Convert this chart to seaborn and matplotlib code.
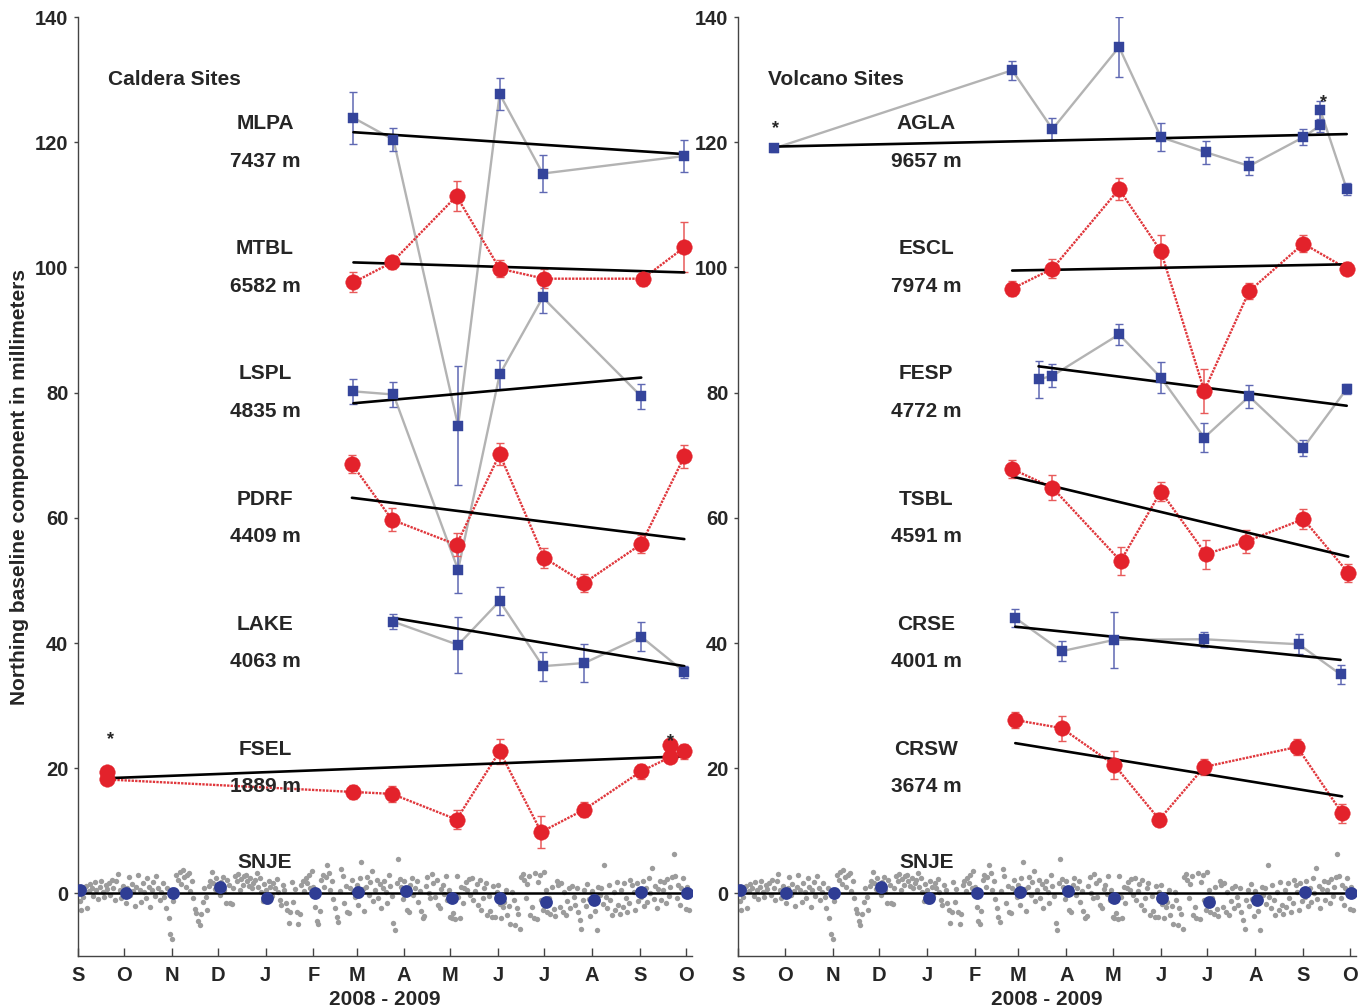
"""
Northing baseline components, caldera and volcano sites (2008 - 2009)
"""

# Libraries
import numpy as np
import pandas as pd
import seaborn as sns
import matplotlib.pyplot as plt

# Seaborn
sns.set_theme(style="ticks")
plt.rcParams['font.family'] = ['Liberation Sans', 'DejaVu Sans']
plt.rcParams['font.weight'] = 'bold'
plt.rcParams['axes.labelweight'] = 'bold'

# ---------------------------------
# Data (days since 1 Sep 2008, mm)
# ---------------------------------
MONTH_DAYS = [0, 30, 61, 91, 122, 153, 181, 212, 242, 273, 303, 334, 365, 395]
MONTH_LABELS = ['S', 'O', 'N', 'D', 'J', 'F', 'M', 'A', 'M', 'J', 'J', 'A', 'S', 'O']

# Caldera sites
MLPA_DAYS = [179, 205, 247, 274, 302, 394]
MLPA_MM = [123.9, 120.4, 74.7, 127.7, 115.0, 117.8]
MLPA_ERR = [4.2, 1.8, 9.5, 2.6, 3.0, 2.5]
MLPA_TREND = [121.6, 118.1]

MTBL_DAYS = [179, 204, 246, 274, 303, 367, 394]
MTBL_MM = [97.6, 100.8, 111.4, 99.8, 98.2, 98.2, 103.2]
MTBL_ERR = [1.6, 1.0, 2.4, 1.4, 1.5, 1.2, 4.0]
MTBL_TREND = [100.8, 99.2]

LSPL_DAYS = [179, 205, 247, 274, 302, 366]
LSPL_MM = [80.2, 79.7, 51.7, 82.9, 95.2, 79.4]
LSPL_ERR = [2.0, 2.0, 3.7, 2.3, 2.5, 2.0]
LSPL_TREND = [78.3, 82.4]

PDRF_DAYS = [178, 204, 246, 274, 303, 329, 366, 394]
PDRF_MM = [68.6, 59.7, 55.7, 70.2, 53.6, 49.6, 55.8, 69.8]
PDRF_ERR = [1.5, 1.8, 1.8, 1.8, 1.6, 1.4, 1.4, 1.8]
PDRF_TREND = [63.2, 56.6]

LAKE_DAYS = [205, 247, 274, 302, 329, 366, 394]
LAKE_MM = [43.4, 39.7, 46.7, 36.3, 36.8, 41.0, 35.4]
LAKE_ERR = [1.2, 4.5, 2.2, 2.3, 3.0, 2.3, 1.0]
LAKE_TREND = [44.0, 36.3]

FSEL_DAYS = [19, 19, 179, 204, 246, 274, 301, 329, 366, 385, 385, 394]
FSEL_MM = [19.4, 18.2, 16.2, 15.9, 11.8, 22.7, 9.8, 13.4, 19.5, 21.8, 23.7, 22.7]
FSEL_ERR = [0.8, 0.8, 1.1, 1.3, 1.5, 2.0, 2.5, 1.2, 1.2, 1.0, 0.8, 1.2]
FSEL_TREND = [18.4, 21.9]

# Volcano sites
AGLA_DAYS = [23, 177, 203, 246, 273, 302, 330, 365, 376, 376, 393]
AGLA_MM = [119.0, 131.5, 122.1, 135.2, 120.8, 118.4, 116.2, 120.8, 122.7, 125.1, 112.5]
AGLA_ERR = [0.6, 1.5, 1.7, 4.8, 2.2, 1.8, 1.5, 1.3, 1.0, 1.5, 1.0]
AGLA_TREND = [119.3, 121.3]

ESCL_DAYS = [177, 203, 246, 273, 301, 330, 365, 393]
ESCL_MM = [96.6, 99.8, 112.5, 102.6, 80.3, 96.2, 103.8, 99.8]
ESCL_ERR = [1.2, 1.5, 1.8, 2.5, 3.5, 1.3, 1.3, 1.0]
ESCL_TREND = [99.5, 100.5]

FESP_DAYS = [194, 203, 246, 273, 301, 330, 365, 393]
FESP_MM = [82.1, 82.7, 89.3, 82.4, 72.8, 79.4, 71.2, 80.6]
FESP_ERR = [3.0, 1.8, 1.7, 2.5, 2.3, 1.8, 1.3, 0.8]
FESP_TREND = [84.2, 77.9]

TSBL_DAYS = [177, 203, 247, 273, 302, 328, 365, 394]
TSBL_MM = [67.8, 64.8, 53.1, 64.2, 54.2, 56.2, 59.8, 51.2]
TSBL_ERR = [1.5, 2.0, 2.2, 1.5, 2.3, 1.8, 1.6, 1.5]
TSBL_TREND = [66.6, 53.8]

CRSE_DAYS = [179, 209, 243, 301, 362, 389]
CRSE_MM = [44.0, 38.7, 40.5, 40.6, 39.8, 35.0]
CRSE_ERR = [1.5, 1.6, 4.5, 1.2, 1.6, 1.5]
CRSE_TREND = [42.6, 37.3]

CRSW_DAYS = [179, 209, 243, 272, 301, 361, 390]
CRSW_MM = [27.7, 26.4, 20.5, 11.8, 20.2, 23.4, 12.8]
CRSW_ERR = [1.3, 2.0, 2.3, 1.0, 1.3, 1.3, 1.5]
CRSW_TREND = [24.0, 15.5]

# Reference site SNJE, monthly means
SNJE_DAYS = [1, 31, 62, 92, 123, 154, 182, 213, 243, 274, 304, 335, 366, 396]
SNJE_MM = [0.6, 0.0, 0.1, 1.1, -0.8, 0.0, 0.2, 0.4, -0.8, -0.8, -1.3, -1.0, 0.2, 0.0]
SNJE_ERR = [0.6, 0.6, 0.7, 0.5, 0.7, 0.6, 0.7, 0.5, 0.6, 0.6, 0.5, 0.6, 0.5, 0.5]

# Reference site SNJE, daily solutions (one per day from 1 Sep 2008)
SNJE_DAILY = [
    0.3, -1.2, -2.6, -0.5, 0.8, 1.2, -2.3, 0.4, 1.5, 0.9, -0.4, 1.8, 0.6, -0.9, 1.1, 2.0, 0.3, -0.6, 1.4, 0.7,
    1.6, -0.2, 2.2, 0.8, -1.1, 1.9, 3.1, 0.5, -0.8, 1.2, 0.2, -1.6, 0.9, 2.6, -0.3, 1.5, 0.4, -2.0, 1.1, 2.9,
    0.6, -1.3, 1.7, 0.2, -0.7, 2.4, 1.0, -2.1, 0.5, 1.8, -0.4, 2.7, 0.9, -1.0, 0.3, 1.6, -0.5, -2.4, 0.8, -4.0,
    -6.5, -7.3, -1.2, 0.6, 3.0, 2.2, 3.4, 1.5, 3.7, 2.6, 1.0, 2.9, 3.3, 0.4, 1.9, -0.8, -2.5, -3.1, -4.4, -5.0,
    -3.3, -1.4, 0.9, -0.5, -2.7, 1.2, 2.0, 3.4, 1.6, 0.7, 2.4, 1.1, -0.3, 1.8, 2.6, 0.5, -1.6, 2.1, 1.3, -1.5,
    -1.7, 0.8, 2.8, 1.9, 3.1, 0.6, 2.3, 1.4, 2.7, 3.0, 2.0, 1.2, 2.5, 0.9, 1.7, 2.2, 3.2, 1.0, 2.4, 0.3,
    -1.2, 1.5, 0.6, -0.8, 2.0, 1.1, -0.4, 1.6, 0.9, 2.3, 0.2, -1.1, -1.8, 1.4, 0.5, -1.5, -2.6, -4.7, -3.0, 1.8,
    -1.4, 0.7, -2.9, -4.9, -3.3, 1.3, 2.0, 0.4, 2.4, 1.7, 2.9, 0.8, 3.6, 1.1, -2.1, -4.4, -4.9, -2.8, 2.2, 3.0,
    1.0, 2.6, 4.5, 3.2, 0.6, 1.9, -0.9, -2.3, -3.7, -4.6, 0.4, 3.9, 2.8, -1.5, 1.2, -2.9, -3.2, 0.8, 2.1, 0.2,
    -0.6, 1.4, -1.9, 2.4, 5.0, 0.7, -2.8, 1.1, 2.6, -0.3, 1.8, 3.6, -1.2, 0.5, 2.2, -0.7, 1.5, -2.4, 0.9, 1.9,
    0.3, -1.6, 2.9, 1.2, -0.4, -4.8, -5.9, 1.7, 5.5, 2.3, 1.0, -0.9, 2.0, 0.6, -2.6, -3.0, 1.4, 2.5, -0.2, 0.8,
    1.9, -1.3, 0.4, -2.8, -4.0, -3.6, 1.2, 2.6, 0.1, -0.8, 3.1, 1.6, -0.6, 2.2, -1.9, -2.4, 0.7, 1.3, -0.1, 2.7,
    -1.0, 0.5, -3.8, -4.0, -3.2, -4.1, 2.8, -0.5, -3.9, 1.1, -1.6, 0.9, 1.8, 0.6, 2.3, -0.2, 2.5, -1.1, 0.4, 1.5,
    -1.9, 2.1, -2.6, -0.8, 0.8, 1.6, -3.5, -0.4, -2.8, -3.8, 1.2, -3.8, 0.3, 1.4, -1.7, -4.0, -2.2, -1.4, 0.6, -3.5,
    -2.0, -4.9, 0.2, -1.1, -5.0, -2.4, -3.3, -5.7, 2.6, 3.1, 2.2, -0.8, 1.5, 2.7, -3.4, -2.1, -3.9, 3.2, -4.1, 1.8,
    2.9, -1.0, -2.6, 3.4, 0.5, -2.9, -0.7, -3.3, 1.0, -2.5, -3.6, 2.0, 1.4, -2.2, 1.7, -3.0, 0.3, -3.5, -1.2, 0.8,
    -2.4, 1.2, -0.5, -1.8, 0.9, -3.0, -4.2, -5.7, -1.1, 0.6, -2.0, 1.5, -0.9, -3.6, 0.4, -1.4, -2.8, -5.9, 1.1, -0.3,
    0.8, -1.7, 4.5, -0.5, -2.3, 1.3, -1.0, -3.4, 0.2, -2.6, 1.8, -1.9, -3.3, 0.6, -2.1, 1.6, -0.8, -3.0, -1.5, 2.2,
    1.4, 0.3, -2.7, 1.7, -1.2, 0.5, -0.6, 1.9, -2.0, 0.9, -1.4, 2.4, 0.1, 4.0, -0.9, 1.2, -2.3, 0.7, 2.0, -1.1,
    0.6, 1.8, -1.6, 2.3, -0.4, 1.1, 2.6, 6.3, 2.7, -0.7, 1.4, -1.8, 0.9, 2.5, -0.3, -2.5, 1.0, -2.7, 0.4,
]

# Panels: (title, [(site, baseline, days, mm, err, trend, style), ...])
CALDERA = [
    ('MLPA', '7437 m', MLPA_DAYS, MLPA_MM, MLPA_ERR, MLPA_TREND, 'blue'),
    ('MTBL', '6582 m', MTBL_DAYS, MTBL_MM, MTBL_ERR, MTBL_TREND, 'red'),
    ('LSPL', '4835 m', LSPL_DAYS, LSPL_MM, LSPL_ERR, LSPL_TREND, 'blue'),
    ('PDRF', '4409 m', PDRF_DAYS, PDRF_MM, PDRF_ERR, PDRF_TREND, 'red'),
    ('LAKE', '4063 m', LAKE_DAYS, LAKE_MM, LAKE_ERR, LAKE_TREND, 'blue'),
    ('FSEL', '1889 m', FSEL_DAYS, FSEL_MM, FSEL_ERR, FSEL_TREND, 'red'),
]
VOLCANO = [
    ('AGLA', '9657 m', AGLA_DAYS, AGLA_MM, AGLA_ERR, AGLA_TREND, 'blue'),
    ('ESCL', '7974 m', ESCL_DAYS, ESCL_MM, ESCL_ERR, ESCL_TREND, 'red'),
    ('FESP', '4772 m', FESP_DAYS, FESP_MM, FESP_ERR, FESP_TREND, 'blue'),
    ('TSBL', '4591 m', TSBL_DAYS, TSBL_MM, TSBL_ERR, TSBL_TREND, 'red'),
    ('CRSE', '4001 m', CRSE_DAYS, CRSE_MM, CRSE_ERR, CRSE_TREND, 'blue'),
    ('CRSW', '3674 m', CRSW_DAYS, CRSW_MM, CRSW_ERR, CRSW_TREND, 'red'),
]

# Asterisks (first / last occupation)
CALDERA_STARS = [(21, 24.5), (385, 24.2)]
VOLCANO_STARS = [(24, 122.2), (378, 126.3)]

# Styles
STYLES = {
    'blue': dict(line='#b3b3b3', ls='-', marker='s', face='#34449b',
                 ecol='#5f68b3', size=62),
    'red': dict(line='#e0373c', ls=(0, (1, 0.5)), marker='o', face='#e3222b',
                ecol='#e85a5a', size=125),
}
FS = 15
FS_TICK = 14.5


# ---------------------------------
# Methods
# ---------------------------------
def draw_panel(ax, title, sites, stars):
    """Draws one panel of sites."""
    # Daily SNJE solutions
    daily = pd.DataFrame({'day': np.arange(len(SNJE_DAILY)), 'mm': SNJE_DAILY})
    sns.scatterplot(data=daily, x='day', y='mm', ax=ax, color='#9c9c9c',
                    s=15, linewidth=0, zorder=1)
    ax.plot([0, 399], [0, 0], color='black', lw=1.8, zorder=2)
    ax.errorbar(SNJE_DAYS, SNJE_MM, yerr=SNJE_ERR, fmt='none',
                ecolor='#5f68b3', elinewidth=1, capsize=2, zorder=3)
    sns.scatterplot(x=SNJE_DAYS, y=SNJE_MM, ax=ax, color='#2f3d94',
                    s=85, linewidth=0, zorder=4)
    ax.text(121.5, 5.0, 'SNJE', ha='center', va='center', fontsize=FS,
            fontweight='bold')

    for i, (name, dist, days, mm, err, trend, style) in enumerate(sites):
        st = STYLES[style]
        sns.lineplot(x=days, y=mm, ax=ax, color=st['line'], lw=1.7,
                     linestyle=st['ls'], sort=False, estimator=None, zorder=3)
        ax.errorbar(days, mm, yerr=err, fmt='none', ecolor=st['ecol'],
                    elinewidth=1.1, capsize=3, capthick=1, zorder=4)
        ax.plot([days[0], days[-1]], trend, color='black', lw=1.9, zorder=5)
        sns.scatterplot(x=days, y=mm, ax=ax, marker=st['marker'],
                        color=st['face'], s=st['size'], linewidth=0.3,
                        edgecolor=st['face'], zorder=6)
        ax.text(121.5, 123 - 20 * i, name, ha='center', va='center',
                fontsize=FS, fontweight='bold')
        ax.text(121.5, 117 - 20 * i, dist, ha='center', va='center',
                fontsize=FS, fontweight='bold')

    for sx, sy in stars:
        ax.text(sx, sy, '*', ha='center', va='center', fontsize=13,
                fontweight='bold', zorder=7)

    ax.text(19.5, 130, title, ha='left', va='center', fontsize=FS,
            fontweight='bold')

    # Axes
    ax.set_xlim(0, 399)
    ax.set_ylim(-10, 140)
    ax.set_xticks(MONTH_DAYS)
    ax.set_xticklabels(MONTH_LABELS)
    ax.set_yticks(range(0, 141, 20))
    ax.tick_params(axis='x', direction='in', length=6, width=1, pad=7,
                   labelsize=FS_TICK, color='#444444')
    ax.tick_params(axis='y', direction='out', length=3, width=1, pad=4,
                   labelsize=FS_TICK, color='#444444')
    for lab in ax.get_xticklabels() + ax.get_yticklabels():
        lab.set_fontweight('bold')
    sns.despine(ax=ax)
    for side in ['left', 'bottom']:
        ax.spines[side].set_linewidth(1)
        ax.spines[side].set_color('#444444')
    ax.set_xlabel('2008 - 2009', fontsize=FS, fontweight='bold')
    ax.xaxis.set_label_coords(0.5, -0.036)
    ax.set_ylabel('')


# ---------------------------------
# Main
# ---------------------------------
f = plt.figure(figsize=(13.66, 10.08), dpi=100)
ax1 = f.add_axes([0.0571, 0.0516, 0.4495, 0.9315])
ax2 = f.add_axes([0.5403, 0.0516, 0.4524, 0.9315])

draw_panel(ax1, 'Caldera Sites', CALDERA, CALDERA_STARS)
draw_panel(ax2, 'Volcano Sites', VOLCANO, VOLCANO_STARS)

ax1.set_ylabel('Northing baseline component in millimeters', fontsize=FS,
               fontweight='bold')
ax1.yaxis.set_label_coords(-0.08, 0.5)

# Save
plt.savefig('out.png', dpi=100)
